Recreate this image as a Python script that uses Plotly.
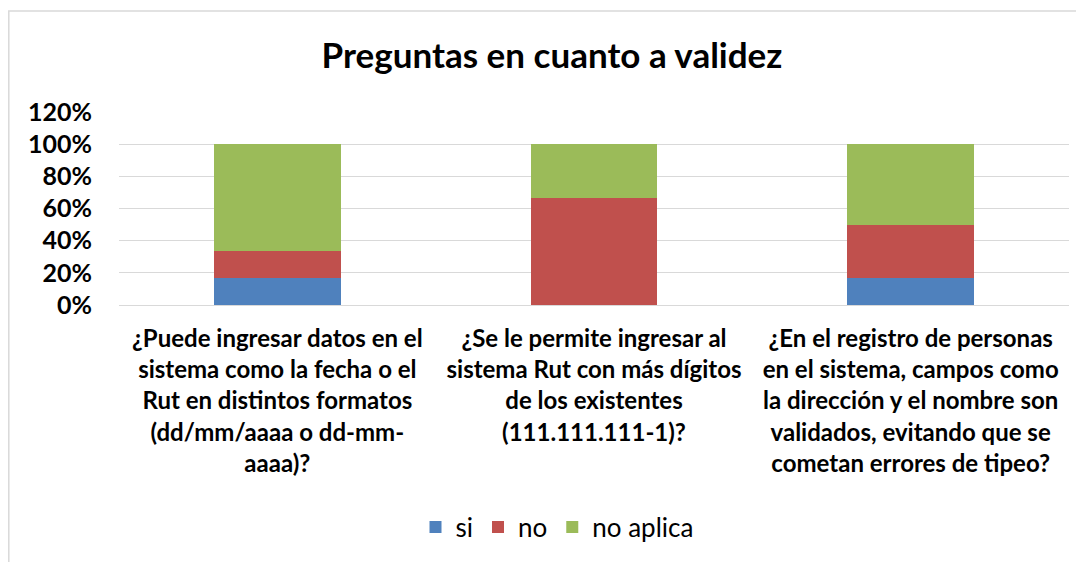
import plotly.graph_objects as go

categories = [
    "¿Puede ingresar datos en el<br>sistema como la fecha o el<br>Rut en distintos formatos<br>(dd/mm/aaaa o dd-mm-<br>aaaa)?",
    "¿Se le permite ingresar al<br>sistema Rut con más dígitos<br>de los existentes<br>(111.111.111-1)?",
    "¿En el registro de personas<br>en el sistema, campos como<br>la dirección y el nombre son<br>validados, evitando que se<br>cometan errores de tipeo?",
]
si = [0.1667, 0.0, 0.1667]
no = [0.1667, 0.6667, 0.3333]
no_aplica = [0.6667, 0.3333, 0.5]
series_names = ["si", "no", "no aplica"]
colors = ["#4F81BD", "#C0504D", "#9BBB59"]

# page has an 8px body margin, so the figure is drawn offset by 8px
W, H = 1076, 554
L, T = 111, 104
pw, ph = 950, 193
R, B = W - L - pw, H - T - ph

FONT = "Lato, 'Open Sans', sans-serif"

fig = go.Figure()
for name, vals, c in zip(series_names, [si, no, no_aplica], colors):
    fig.add_trace(go.Bar(x=list(range(len(categories))), y=vals, name=name,
                         marker=dict(color=c, line=dict(width=0)), width=0.4))

fig.update_layout(
    width=W, height=H, barmode="stack",
    margin=dict(l=L, r=R, t=T, b=B, autoexpand=False),
    paper_bgcolor="white", plot_bgcolor="white",
    font=dict(family=FONT, color="black"),
    title=dict(text="<b>Preguntas en cuanto a validez</b>", x=(544 - L) / pw, xref="paper",
               xanchor="center", y=1 - 48 / H, yanchor="middle",
               font=dict(size=35, family=FONT)),
    xaxis=dict(tickmode="array", tickvals=list(range(len(categories))), ticktext=categories,
               range=[-0.5, 2.5], showgrid=False, zeroline=False, showline=False,
               tickfont=dict(size=24, family=FONT, color="black", weight="bold"),
               ticks="", ticklen=0, automargin=False, ticklabelstandoff=17),
    yaxis=dict(range=[0, 1.2], dtick=0.2, tickformat=".0%", showgrid=True,
               gridcolor="#D9D9D9", gridwidth=1.3, zeroline=True, zerolinecolor="#D9D9D9",
               zerolinewidth=1.3, showline=False, automargin=False,
               tickfont=dict(size=25, family=FONT, color="black", weight="bold"),
               ticks="", ticklen=0, ticklabelstandoff=26),
    legend=dict(orientation="h", x=(549 - L) / pw, xanchor="center",
                y=-(519 - (T + ph)) / ph, yanchor="middle",
                font=dict(size=26, family=FONT), traceorder="normal", itemwidth=30),
    bargap=0.6,
)

# outer border
fig.add_shape(type="rect", xref="paper", yref="paper",
              x0=(0.8 - L) / pw, x1=(W + 20 - L) / pw,
              y0=-(H + 20 - T - ph) / ph, y1=1 + (T - 3) / ph,
              line=dict(color="#D9D9D9", width=1.5), fillcolor="rgba(0,0,0,0)", layer="below")

fig.write_html("out.html")
